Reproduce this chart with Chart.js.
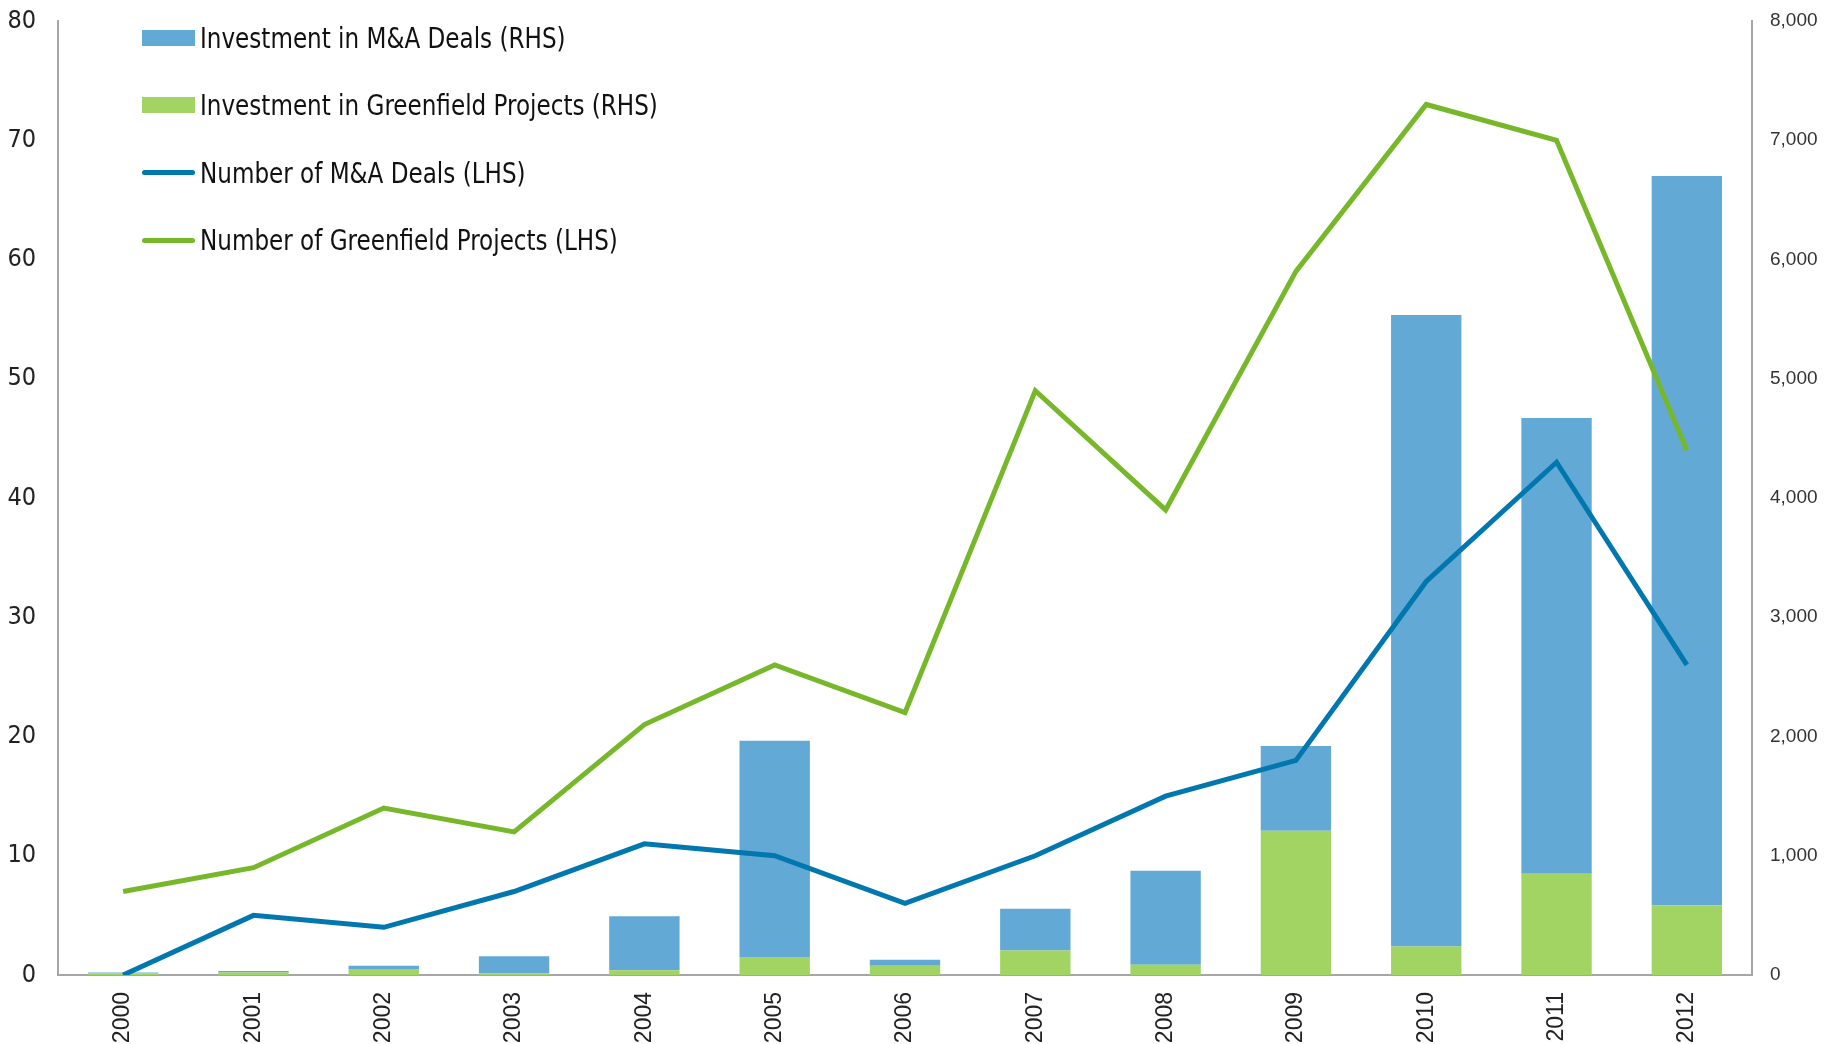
<!DOCTYPE html>
<html>
<head>
<meta charset="utf-8">
<script src="https://cdn.jsdelivr.net/npm/chart.js@4"></script>
<style>
  html, body { margin: 0; padding: 0; background: #fff; }
  #wrap { position: relative; width: 1831px; height: 1044px; }
  #legend { position: absolute; left: 142px; top: 18px; font-family: "Liberation Sans Narrow", "DejaVu Sans Condensed", sans-serif; font-size: 29px; color: #111; }
  .row { height: 67.5px; display: flex; align-items: center; white-space: nowrap; position: relative; top: -14px; }
  .sw { width: 53px; margin-right: 5px; flex: none; }
  .txt { display: inline-block; transform: scaleX(0.885); transform-origin: left center; }
</style>
</head>
<body>
<div id="wrap">
  <canvas id="c" width="1831" height="1044"></canvas>
  <div id="legend"></div>
</div>
<script>
const years = ['2000','2001','2002','2003','2004','2005','2006','2007','2008','2009','2010','2011','2012'];
// RHS: investment (stacked bars)
const invMA = [5, 12, 28, 145, 452, 1815, 50, 350, 788, 710, 5296, 3820, 6115];
const invGreen = [15, 22, 50, 12, 40, 150, 78, 205, 87, 1210, 238, 850, 585];
// LHS: counts (lines)
const numMA = [0, 5, 4, 7, 11, 10, 6, 10, 15, 18, 33, 43, 26];
const numGreen = [7, 9, 14, 12, 21, 26, 22, 49, 39, 59, 73, 70, 44];

const blueBar = '#63a9d6', greenBar = '#a1d462', blueLine = '#0077ae', greenLine = '#77b82b';
const axisGrey = '#a6a6a6';

const legendItems = [
  { label: 'Investment in M&A Deals (RHS)', color: blueBar, type: 'box' },
  { label: 'Investment in Greenfield Projects (RHS)', color: greenBar, type: 'box' },
  { label: 'Number of M&A Deals (LHS)', color: blueLine, type: 'line' },
  { label: 'Number of Greenfield Projects (LHS)', color: greenLine, type: 'line' }
];
const lg = document.getElementById('legend');
legendItems.forEach(it => {
  const row = document.createElement('div');
  row.className = 'row';
  const sw = document.createElement('span');
  sw.className = 'sw';
  sw.style.background = it.color;
  sw.style.height = it.type === 'box' ? '16px' : '5px';
  if (it.type === 'line') sw.style.borderRadius = '3px';
  row.appendChild(sw);
  const t = document.createElement('span');
  t.className = 'txt';
  t.textContent = it.label;
  row.appendChild(t);
  lg.appendChild(row);
});

const ctx = document.getElementById('c').getContext('2d');
new Chart(ctx, {
  data: {
    labels: years,
    datasets: [
      { type: 'line', label: 'Number of M&A Deals (LHS)', data: numMA, yAxisID: 'y', borderColor: blueLine, borderWidth: 5, pointRadius: 0, tension: 0, order: 1 },
      { type: 'line', label: 'Number of Greenfield Projects (LHS)', data: numGreen, yAxisID: 'y', borderColor: greenLine, borderWidth: 5, pointRadius: 0, tension: 0, order: 1 },
      { type: 'bar', label: 'Investment in Greenfield Projects (RHS)', data: invGreen, yAxisID: 'y1', backgroundColor: greenBar, barPercentage: 0.54, categoryPercentage: 1, order: 2 },
      { type: 'bar', label: 'Investment in M&A Deals (RHS)', data: invMA, yAxisID: 'y1', backgroundColor: blueBar, barPercentage: 0.54, categoryPercentage: 1, order: 2 }
    ]
  },
  options: {
    responsive: false,
    animation: false,
    layout: { padding: 0 },
    plugins: { legend: { display: false }, tooltip: { enabled: false } },
    scales: {
      x: {
        stacked: true,
        offset: true,
        grid: { display: false },
        border: { color: axisGrey, width: 2 },
        ticks: { minRotation: 90, maxRotation: 90, padding: 9, color: '#222', font: { family: 'Liberation Sans', size: 23 } },
        afterFit: s => { s.height = 69; }
      },
      y: {
        position: 'left',
        min: 0, max: 80,
        grid: { display: false },
        border: { color: axisGrey, width: 2 },
        ticks: { stepSize: 10, padding: 14, color: '#222', font: { family: 'Liberation Sans Narrow, DejaVu Sans Condensed', size: 25 } },
        afterFit: s => { s.width = 58; s.paddingTop = 21; }
      },
      y1: {
        position: 'right',
        stacked: true,
        min: 0, max: 8000,
        grid: { display: false },
        border: { color: axisGrey, width: 2 },
        ticks: { stepSize: 1000, padding: 10, color: '#333', font: { family: 'Liberation Sans', size: 19 }, callback: v => v.toLocaleString('en-US') },
        afterFit: s => { s.width = 79; s.paddingTop = 21; }
      }
    }
  }
});
</script>
</body>
</html>
